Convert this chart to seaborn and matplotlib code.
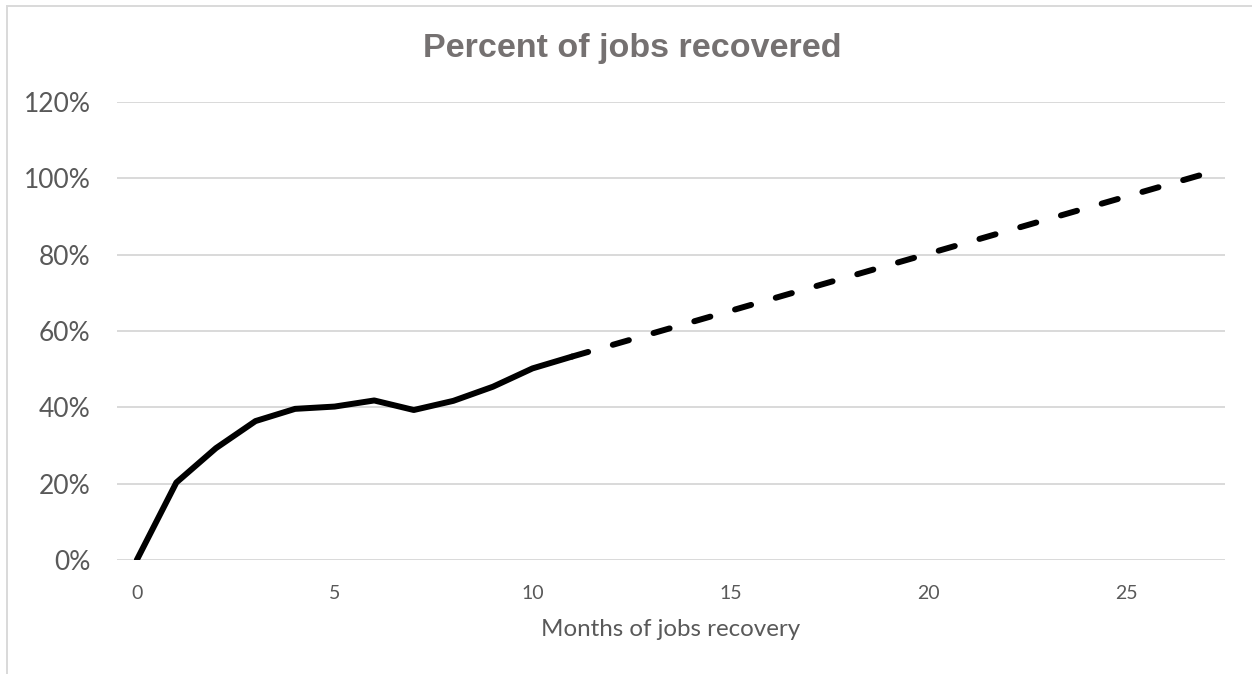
import matplotlib
matplotlib.use("Agg")
import matplotlib.pyplot as plt
import seaborn as sns
import pandas as pd
from matplotlib.patches import Rectangle
from matplotlib.ticker import FuncFormatter

# Data
months_actual = [0, 1, 2, 3, 4, 5, 6, 7, 8, 9, 10, 11]
pct_actual = [0.0, 20.3, 29.3, 36.4, 39.6, 40.2, 41.8, 39.3, 41.7, 45.4, 50.2, 53.3]
months_proj = [11, 27]
pct_proj = [53.3, 101.2]
x_ticks = [0, 5, 10, 15, 20, 25]
y_ticks = [0, 20, 40, 60, 80, 100, 120]
title = "Percent of jobs recovered"
xlabel = "Months of jobs recovery"

sns.set_theme(style="white")
plt.rcParams['font.family'] = ['Lato', 'DejaVu Sans']

W, H = 1252, 674
fig = plt.figure(figsize=(W / 100, H / 100), dpi=100)
ax = fig.add_axes([117 / W, 1 - 560 / H, (1225 - 117) / W, (560 - 102) / H])

df_a = pd.DataFrame({"month": months_actual, "pct": pct_actual})
df_p = pd.DataFrame({"month": months_proj, "pct": pct_proj})

sns.lineplot(data=df_a, x="month", y="pct", ax=ax, color="black", linewidth=4.3,
             solid_capstyle="round", solid_joinstyle="round", zorder=3)
sns.lineplot(data=df_p, x="month", y="pct", ax=ax, color="black", linewidth=4.3,
             zorder=3)
proj_line = ax.lines[-1]
proj_line.set_linestyle((0, (2.8, 4.3)))
proj_line.set_dash_capstyle("round")

ax.set_xlim(-0.5, 27.5)
ax.set_ylim(0, 120)
ax.set_xticks(x_ticks)
ax.set_yticks(y_ticks)
ax.yaxis.set_major_formatter(FuncFormatter(lambda v, p: f"{v:.0f}%"))
ax.grid(axis="y", color="#d9d9d9", linewidth=1.4, zorder=0)
ax.grid(axis="x", visible=False)
for s in ax.spines.values():
    s.set_visible(False)
ax.tick_params(axis="y", length=0, pad=19, labelsize=19, labelcolor="#595959")
ax.tick_params(axis="x", length=0, pad=18, labelsize=14, labelcolor="#595959")
ax.set_xlabel(xlabel, fontsize=17.4, color="#595959", labelpad=12)
ax.set_ylabel("")

fig.text(632 / W, 1 - 48 / H, title, ha="center", va="center", fontsize=24.5,
         fontweight="bold", color="#757171", family=["Liberation Sans", "DejaVu Sans"])

fig.patches.append(Rectangle((7 / W, -0.01), 1.2, 1 - 6 / H + 0.01, transform=fig.transFigure,
                             fill=False, edgecolor="#d9d9d9", linewidth=1.4))

fig.savefig("out.png", dpi=100, facecolor="white")
